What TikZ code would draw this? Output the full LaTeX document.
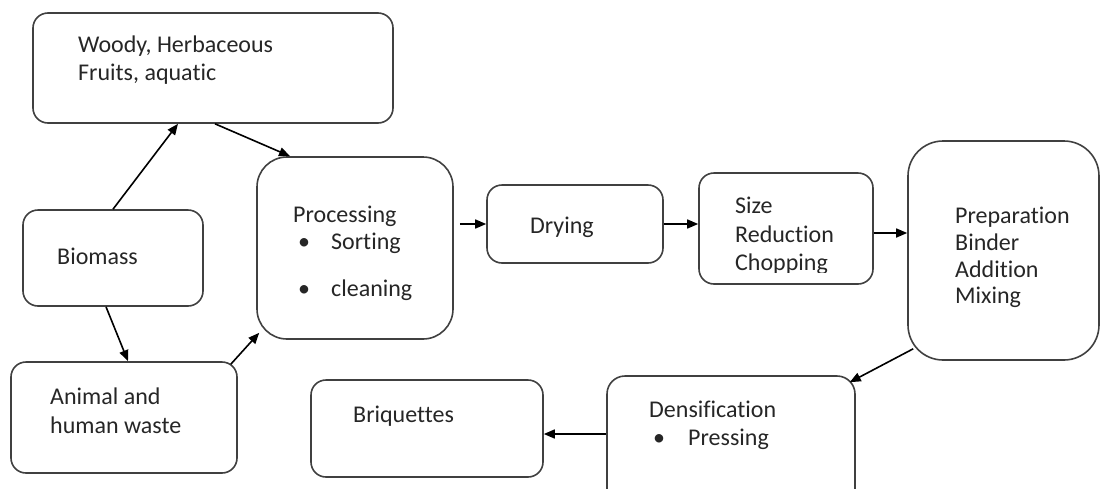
\documentclass[tikz,border=0pt]{standalone}
\usepackage{fontspec}
\setmainfont{Carlito}[Ligatures=NoCommon]
\usetikzlibrary{arrows.meta}

\begin{document}
\begin{tikzpicture}[x=1pt,y=-1pt]
		\tikzset{stage/.style={draw=black!75,line width=1.6pt,rounded corners=15pt,inner sep=0pt},
			txt/.style={anchor=base west,inner sep=0pt,align=left,font=\fontsize{24}{28}\selectfont,text=black!85},
			flow/.style={-{Triangle[length=11pt,width=9pt]},line width=1.6pt}}
		\useasboundingbox (0,0) rectangle (1101,488);
		\clip (0,0) rectangle (1101,488);
		% boxes
		\node[stage,minimum width=360pt,minimum height=110pt] (woody) at (213,68) {};
		\node[stage,minimum width=180pt,minimum height=96pt] (bio) at (113,258) {};
		\node[stage,minimum width=226pt,minimum height=111pt] (waste) at (124,417.5) {};
		\node[stage,rounded corners=30pt,minimum width=196pt,minimum height=182pt] (proc) at (355,248) {};
		\node[stage,minimum width=176pt,minimum height=78pt] (dry) at (575,224) {};
		\node[stage,minimum width=174pt,minimum height=111pt] (size) at (786,228.5) {};
		\node[stage,rounded corners=35pt,minimum width=191pt,minimum height=219pt] (prep) at (1003.5,250.5) {};
		\node[stage,rounded corners=18pt,minimum width=248pt,minimum height=134pt] (dens) at (731,443) {};
		\node[stage,minimum width=232pt,minimum height=97pt] (briq) at (427,428.5) {};
		% texts (placed at the baseline of their last line)
		\node[txt] (woody-t) at (78,80) {Woody, Herbaceous\\Fruits, aquatic};
		\node[txt] (bio-t) at (57,264) {Biomass};
		\node[txt] (waste-t) at (50,433) {Animal and\\[1pt]human waste};
		\node[txt] (proc-t) at (293,296) {Processing\\[-1pt]
			\hspace*{5pt}\makebox[33pt][l]{\textbullet}Sorting\\[19pt]
			\hspace*{5pt}\makebox[33pt][l]{\textbullet}cleaning};
		\node[txt] (dry-t) at (530,233) {Drying};
		\begin{scope}
			\clip (699,173) rectangle (873,272);
			\node[txt] (size-t) at (735,270) {Size\\[1pt]Reduction\\Chopping};
		\end{scope}
		\node[txt] (prep-t) at (955,303) {Preparation\\[-1pt]Binder\\[-1pt]Addition\\[-2pt]Mixing};
		\node[txt] (dens-t) at (649,445) {Densification\\
			\hspace*{4pt}\makebox[35pt][l]{\textbullet}Pressing};
		\node[txt] (briq-t) at (353,422) {Briquettes};
		% arrows
		\draw[flow] (bio.north) -- ([xshift=-35pt]woody.south);
		\draw[flow] ([xshift=2pt]woody.south) -- ([xshift=-65pt]proc.north);
		\draw[flow] ([xshift=-7pt]bio.south) -- ([xshift=4pt]waste.north);
		\draw[flow] ([shift={(-7pt,-3pt)}]waste.north east) -- ([shift={(3pt,7pt)}]proc.south west);
		\draw[flow] ([xshift=6pt]proc.east |- dry.west) -- (dry.west);
		\draw[flow] (dry.east) -- (dry.east -| size.west);
		\draw[flow] ([yshift=-4.5pt]size.east) -- ([yshift=-4.5pt]size.east -| prep.west);
		\draw[flow] ([shift={(6pt,12pt)}]prep.south west) -- ([shift={(-6pt,-7pt)}]dens.north east);
		\draw[flow] ([yshift=-5.5pt]briq.east -| dens.west) -- ([yshift=-5.5pt]briq.east);
\end{tikzpicture}
\end{document}
